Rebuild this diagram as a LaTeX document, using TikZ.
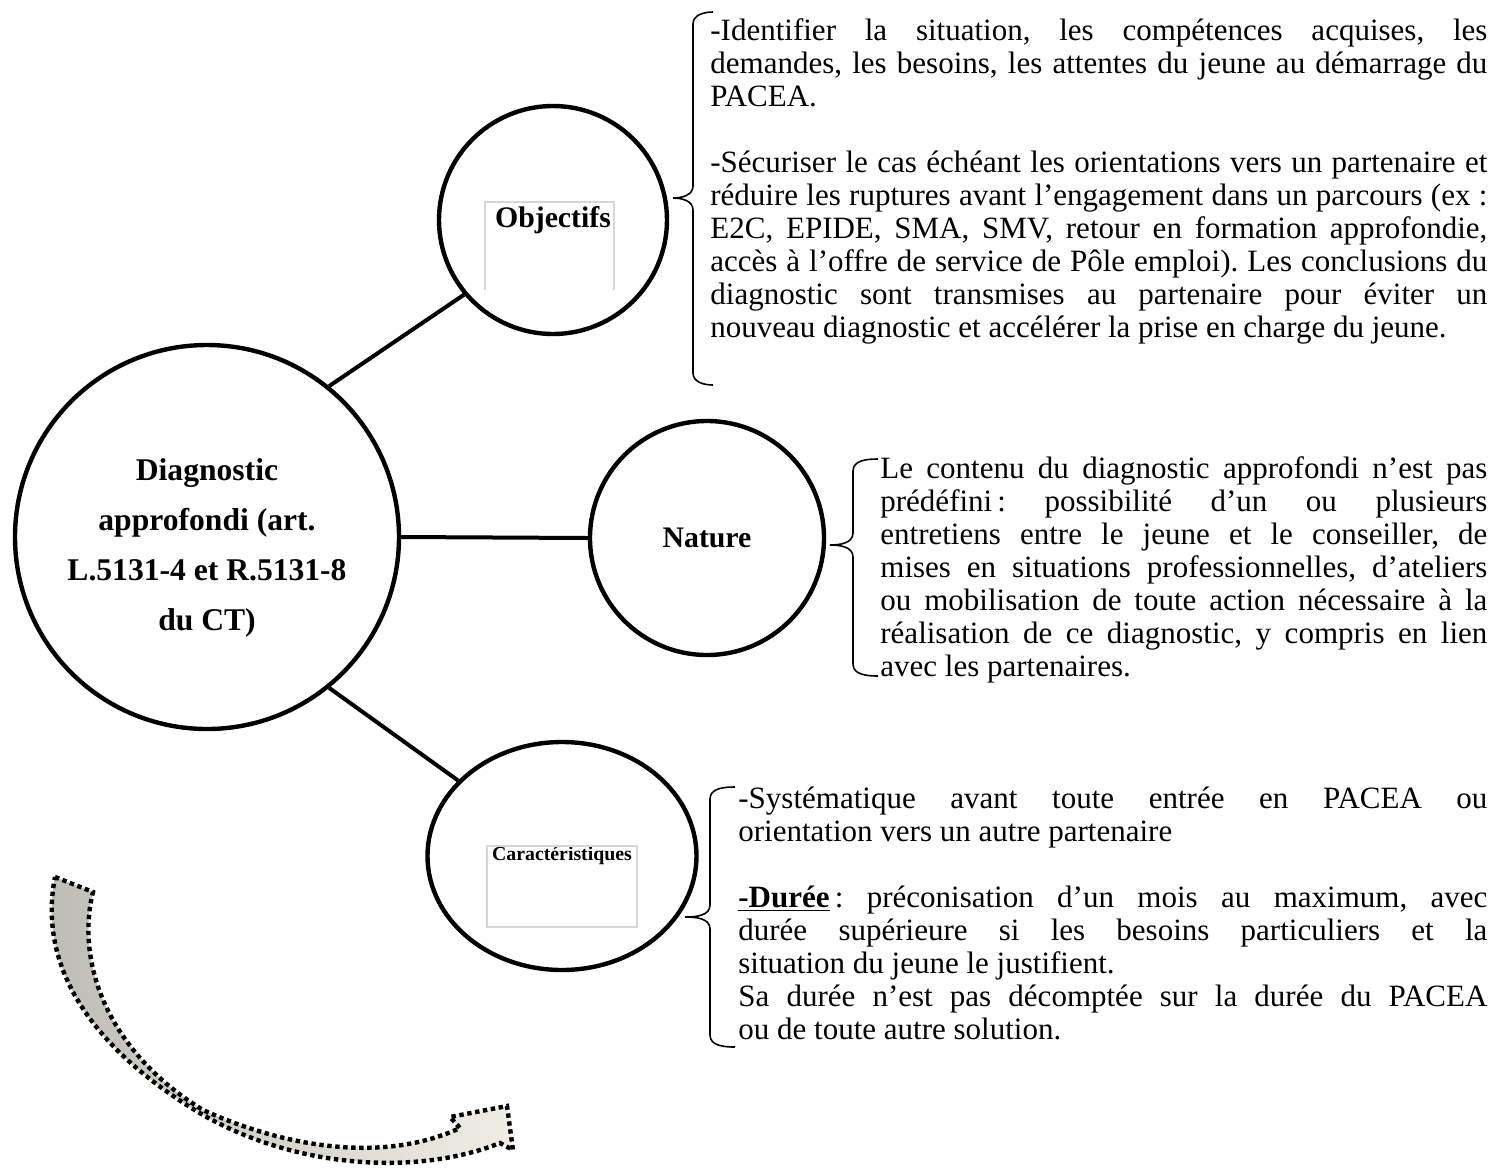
\documentclass[tikz,border=0pt]{standalone}
\usepackage{fontspec}
\setmainfont{Liberation Serif}
\usetikzlibrary{shapes.geometric}
\definecolor{grisfleche}{RGB}{188,188,180}
\definecolor{beigefleche}{RGB}{239,238,228}
\definecolor{griscadre}{RGB}{215,215,215}
\frenchspacing

\begin{document}
\begin{tikzpicture}[x=0.5pt,y=-0.5pt]
\tikzset{rond/.style={draw, circle, line width=2.2pt, inner sep=0pt},
  lien/.style={line width=2pt},
  accolade/.style={line width=0.8pt},
  cadre/.style={draw=griscadre, line width=0.6pt},
  texte/.style={anchor=base west, inner sep=0pt, align=justify, font=\fontsize{15.5}{16.5}\selectfont},
  fleche/.style={line width=2.2pt, dash pattern=on 2.2pt off 1.8pt, left color=grisfleche, right color=beigefleche}}
\useasboundingbox (0,0) rectangle (1490,1174);
% les ronds
\node[rond, minimum size=192pt, align=center, font=\fontsize{15.8}{25}\selectfont\bfseries] (diag) at (207,537) {\rule{0pt}{22pt}Diagnostic\\approfondi (art.\\L.5131-4 et R.5131-8\\du CT)};
\node[rond, minimum size=114pt, font=\fontsize{14.9}{17}\selectfont\bfseries] (obj) at (553,220) {Objectifs};
\node[rond, minimum size=117pt, font=\fontsize{14.9}{17}\selectfont\bfseries] (nat) at (707,538) {Nature};
\node[rond, ellipse, minimum width=134.5pt, minimum height=114pt, font=\fontsize{9.9}{12}\selectfont\bfseries] (car) at (562,856) {Caractéristiques};
\draw[cadre] (485,290) -- (485,202) -- (614,202) -- (614,290);
\draw[cadre] (487,846) rectangle (637,927);
\draw[lien] (diag.51) -- (obj.220);
\draw[lien] (diag.east) -- (nat.west);
\draw[lien] (diag.-51.5) -- (car.144);
% accolades
\draw[accolade] (713,12) to[out=180,in=90] (693,24) -- (693,186) to[out=-90,in=0] (673,198)
  to[out=0,in=90] (693,210) -- (693,373) to[out=-90,in=180] (713,385);
\draw[accolade] (878,459) to[out=180,in=90] (853,471) -- (853,533) to[out=-90,in=0] (830,545)
  to[out=0,in=90] (853,557) -- (853,664) to[out=-90,in=180] (878,676);
\draw[accolade] (735,787) to[out=180,in=90] (710,799) -- (710,905) to[out=-90,in=0] (685,917)
  to[out=0,in=90] (710,929) -- (710,1035) to[out=-90,in=180] (735,1047);
% textes
\node[texte, text width=388.5pt] (tobj) at (710,40) {-Identifier la situation, les compétences acquises, les\linebreak
demandes, les besoins, les attentes du jeune au démarrage du\linebreak
PACEA.\par\vspace{16.5pt}
-Sécuriser le cas échéant les orientations vers un partenaire et\linebreak
réduire les ruptures avant l’engagement dans un parcours (ex~:\linebreak
E2C, EPIDE, SMA, SMV, retour en formation approfondie,\linebreak
accès à l’offre de service de Pôle emploi). Les conclusions du\linebreak
diagnostic sont transmises au partenaire pour éviter un\linebreak
nouveau diagnostic et accélérer la prise en charge du jeune.};
\node[texte, text width=303.5pt] (tnat) at (880,478) {Le contenu du diagnostic approfondi n’est pas\linebreak
prédéfini\,: possibilité d’un ou plusieurs\linebreak
entretiens entre le jeune et le conseiller, de\linebreak
mises en situations professionnelles, d’ateliers\linebreak
ou mobilisation de toute action nécessaire à la\linebreak
réalisation de ce diagnostic, y compris en lien\linebreak
avec les partenaires.};
\node[texte, text width=374.5pt] (tcar) at (738,808) {-Systématique avant toute entrée en PACEA ou\linebreak
orientation vers un autre partenaire\par\vspace{16.5pt}
\underline{\textbf{-Durée}}\,: préconisation d’un mois au maximum, avec\linebreak
durée supérieure si les besoins particuliers et la\linebreak
situation du jeune le justifient.\par
Sa durée n’est pas décomptée sur la durée du PACEA\linebreak
ou de toute autre solution.};
% la fleche
\draw[fleche] (55,877) -- (93,892)
  .. controls (76,960) and (105,1050) .. (203,1110)
  .. controls (280,1145) and (380,1165) .. (460,1128)
  -- (450,1117) -- (507,1106) -- (513,1150) -- (500,1143)
  .. controls (420,1175) and (300,1170) .. (203,1115)
  .. controls (110,1060) and (35,980) .. (55,877) -- cycle;
\end{tikzpicture}
\end{document}
